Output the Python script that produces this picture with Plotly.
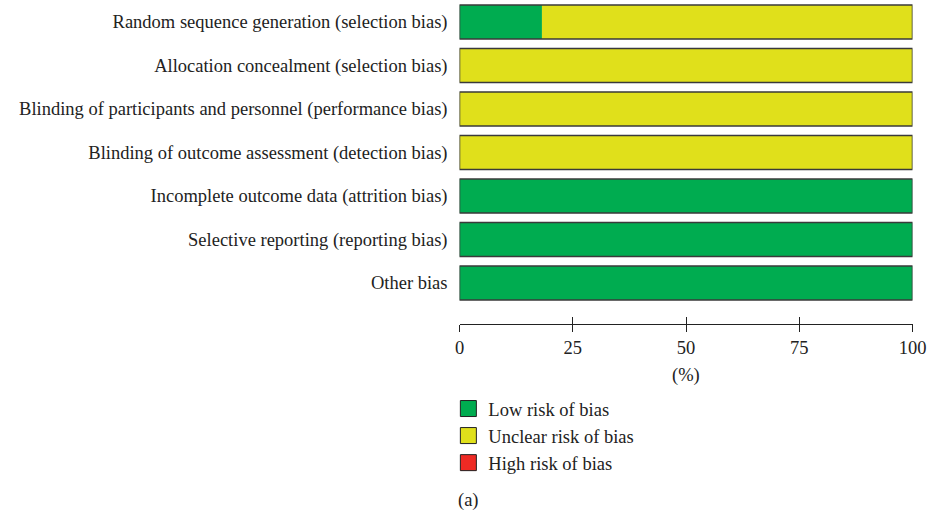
import plotly.graph_objects as go

categories = [
    "Random sequence generation (selection bias)",
    "Allocation concealment (selection bias)",
    "Blinding of participants and personnel (performance bias)",
    "Blinding of outcome assessment (detection bias)",
    "Incomplete outcome data (attrition bias)",
    "Selective reporting (reporting bias)",
    "Other bias",
]
low = [18.2, 0, 0, 0, 100, 100, 100]
unclear = [81.8, 100, 100, 100, 0, 0, 0]
high = [0, 0, 0, 0, 0, 0, 0]
x_ticks = [0, 25, 50, 75, 100]
legend_names = ["Low risk of bias", "Unclear risk of bias", "High risk of bias"]

GREEN = "#00AC50"
YELLOW = "#E0E01B"
RED = "#EE2A24"
EDGE = "#3a3a3a"
FONT = "Liberation Serif"
FS = 18.5

W, H = 928, 512
x0px, x1px = 459.5, 912.5
axis_y = 324
ROW = 43.5
first_center = 22
r_top = -first_center / ROW
r_bot = r_top + axis_y / ROW

totals = [a + b + c for a, b, c in zip(low, unclear, high)]
base_unclear = low
base_high = [a + b for a, b in zip(low, unclear)]

fig = go.Figure()
fig.add_trace(go.Bar(y=categories, x=low, orientation="h", marker=dict(color=GREEN, line_width=0),
                     showlegend=False, width=0.78))
fig.add_trace(go.Bar(y=categories, x=unclear, base=base_unclear, orientation="h",
                     marker=dict(color=YELLOW, line_width=0), showlegend=False, width=0.78))
fig.add_trace(go.Bar(y=categories, x=high, base=base_high, orientation="h",
                     marker=dict(color=RED, line_width=0), showlegend=False, width=0.78))
fig.add_trace(go.Bar(y=categories, x=totals, orientation="h",
                     marker=dict(color="rgba(0,0,0,0)", line=dict(color=EDGE, width=1.5)),
                     showlegend=False, width=0.78, hoverinfo="skip"))

# overlay axis for inward ticks
fig.add_trace(go.Scatter(x=[0, 100], y=[None, None], xaxis="x2", yaxis="y", showlegend=False,
                         mode="markers", hoverinfo="skip"))

for name, col in zip(legend_names, [GREEN, YELLOW, RED]):
    fig.add_trace(go.Scatter(x=[None], y=[None], mode="markers", name=name,
                             marker=dict(symbol="square", size=17, color=col,
                                         line=dict(color="#222", width=1))))

dom = [x0px / W, x1px / W]
fig.update_layout(
    width=W, height=H,
    margin=dict(l=0, r=0, t=0, b=0, autoexpand=False),
    barmode="overlay",
    plot_bgcolor="white", paper_bgcolor="white",
    font=dict(family=FONT, size=FS, color="#222"),
    xaxis=dict(domain=dom, range=[0, 100], tickvals=x_ticks, ticks="outside", ticklen=7,
               tickwidth=1, tickcolor="#222", showline=True, linecolor="#222", linewidth=1,
               showgrid=False, zeroline=False, tickfont=dict(size=FS), automargin=False),
    xaxis2=dict(domain=dom, range=[0, 100], overlaying="x", anchor="y", side="bottom",
                tickvals=x_ticks, ticks="inside", ticklen=7, tickwidth=1, tickcolor="#222",
                showticklabels=False, showline=False, showgrid=False, zeroline=False,
                automargin=False),
    yaxis=dict(domain=[1 - axis_y / H, 1], range=[r_bot, r_top], ticks="",
               showline=False, showgrid=False, zeroline=False, ticklabelstandoff=11,
               tickfont=dict(size=FS), automargin=False),
    legend=dict(x=x0px / W - 0.012, y=1 - 390 / H, xanchor="left", yanchor="top",
                font=dict(size=FS), itemsizing="trace", tracegroupgap=0, bgcolor="rgba(0,0,0,0)"),
    annotations=[
        dict(text="(%)", x=50, xref="x", y=1 - 375 / H, yref="paper", showarrow=False,
             font=dict(size=FS), xanchor="center", yanchor="middle"),
        dict(text="(a)", x=x0px / W - 0.004, xref="paper", y=1 - 500 / H, yref="paper",
             showarrow=False, font=dict(size=FS), xanchor="left", yanchor="middle"),
    ],
)

# remove the default page margin so the figure fills the 928x512 window exactly
fig.write_html("out.html", config={"displayModeBar": False},
               post_script="document.body.style.margin='0';document.body.style.overflow='hidden';")
